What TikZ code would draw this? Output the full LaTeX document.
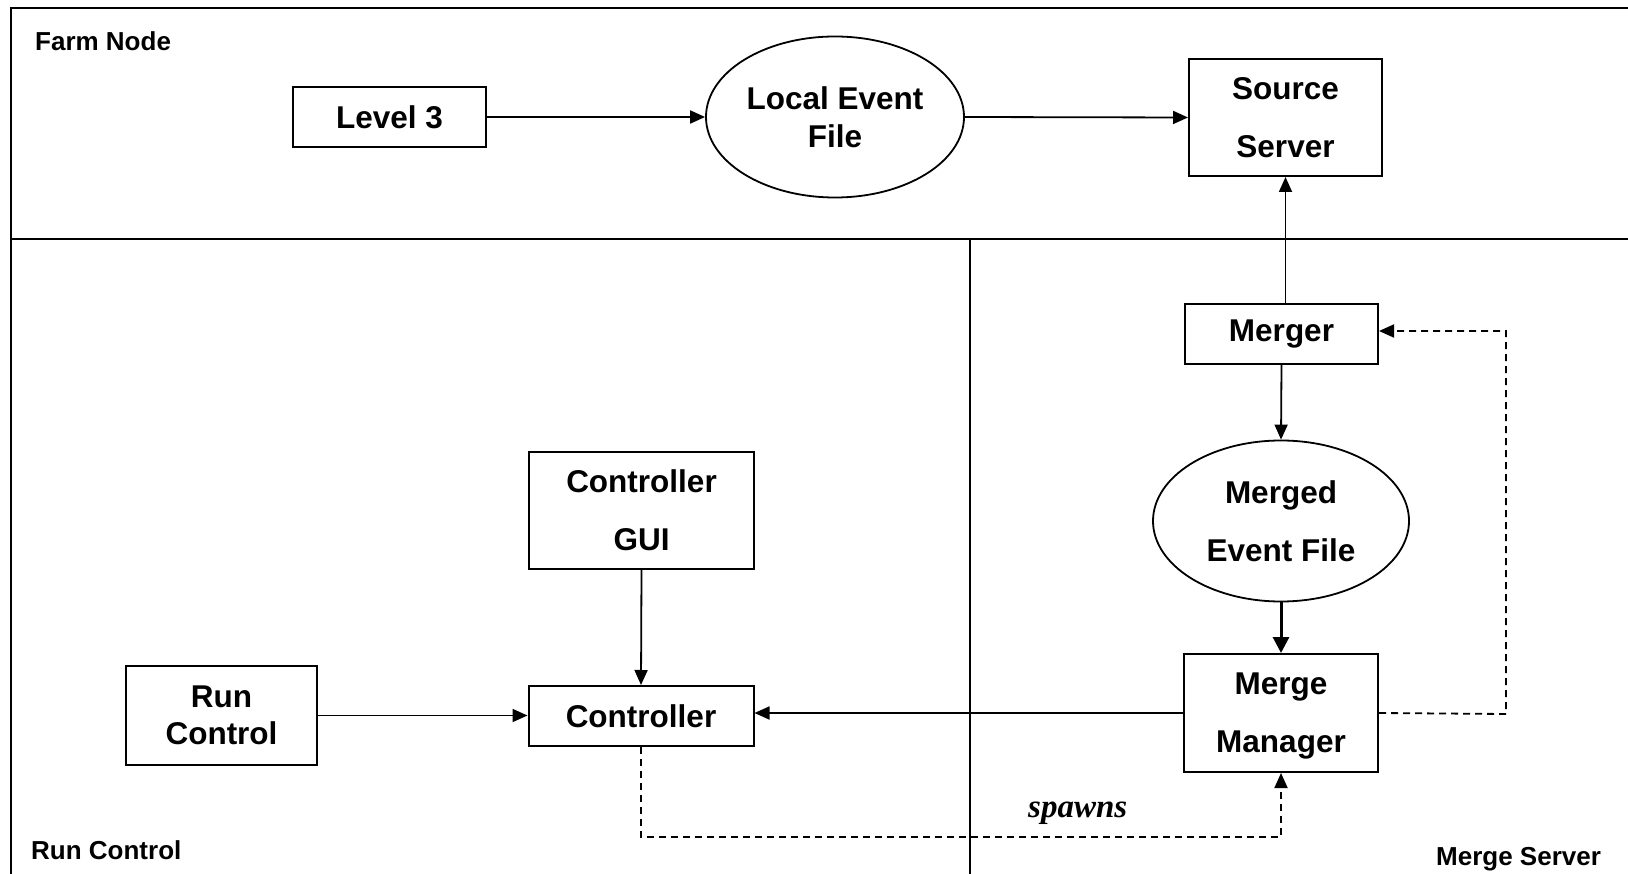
\documentclass[tikz,border=0pt]{standalone}
\usepackage{fontspec}
\setmainfont{Liberation Sans}
\newfontfamily\serifit{Liberation Serif}
\usetikzlibrary{arrows.meta,shapes.geometric}
\begin{document}
\begin{tikzpicture}[x=1pt,y=-1pt,
  box/.style={draw,line width=2pt,inner sep=0pt,align=center,
    font=\bfseries\fontsize{31.5}{58}\selectfont},
  tightbox/.style={box,font=\bfseries\fontsize{31.5}{37.5}\selectfont},
  ell/.style={draw,ellipse,line width=1.8pt,inner sep=0pt,align=center,
    font=\bfseries\fontsize{31.5}{58}\selectfont},
  tightell/.style={ell,font=\bfseries\fontsize{31.5}{37.5}\selectfont},
  lab/.style={inner sep=0pt,font=\bfseries\fontsize{26}{30}\selectfont},
  arr/.style={line width=1.8pt,-{Triangle[length=15pt,width=13pt]}},
  thickarr/.style={line width=3pt,-{Triangle[length=16pt,width=16pt]}},
  dasharr/.style={arr,dash pattern=on 7pt off 5pt}
]
\useasboundingbox (0,0) rectangle (1628,874);
% frame
\draw[line width=2.2pt] (11,874) -- (11,8) -- (1628,8);
\draw[line width=2.4pt] (11,239) -- (1628,239);
\draw[line width=2.2pt] (970,239) -- (970,874);

% nodes
\node[box,minimum width=193pt,minimum height=60pt] (l3) at (389.5,117) {Level 3};
\node[tightell,minimum width=258pt,minimum height=161pt] (lef) at (835,117) {Local Event\\File};
\node[box,minimum width=193pt,minimum height=117pt] (ss) at (1285.5,117.5) {Source\\Server};
\node[box,minimum width=193pt,minimum height=60pt] (merger) at (1281.5,334) {Merger};
\node[ell,minimum width=256pt,minimum height=161pt] (mef) at (1281,521) {Merged\\Event File};
\node[box,minimum width=194pt,minimum height=118pt] (mm) at (1281,713) {Merge\\\smash{Manager}};
\node[box,minimum width=225pt,minimum height=117pt] (gui) at (641.5,510.5) {Controller\\GUI};
\node[box,minimum width=225pt,minimum height=60pt] (ctrl) at (641,716) {Controller};
\node[tightbox,minimum width=191pt,minimum height=99pt] (rc) at (221.5,715.5) {Run\\Control};

% region labels
\node[lab,anchor=base west] (farm) at (35,51) {Farm Node};
\node[lab,anchor=base west] (rclab) at (31,859) {Run Control};
\node[lab,anchor=base west] (mslab) at (1436,865) {Merge Server};
\node[inner sep=0pt,anchor=base west,font=\serifit\bfseries\itshape\fontsize{33}{40}\selectfont] (spawns) at (1028,817) {spawns};

% connectors
\draw[arr] (l3.east) -- (lef.west);
\draw[arr] (lef.east) -- (ss.west);
\draw[arr] (merger.north -| ss.south) -- (ss.south);
\draw[arr] (merger.south) -- (mef.north);
\draw[thickarr] (mef.south) -- (mm.north);
\draw[arr] (mm.west) -- (mm.west -| ctrl.east);
\draw[arr] (rc.east) -- (rc.east -| ctrl.west);
\draw[arr] (gui.south) -- (ctrl.north);

\coordinate (c1) at (1506,714);
\coordinate (c2) at (1506,331);
\draw[dasharr] (mm.east) -- (c1) -- (c2) -- (c2 -| merger.east);

\coordinate (s1) at (640,837);
\draw[dasharr] (ctrl.south) -- (ctrl.south |- s1) -- (s1 -| mm.south) -- (mm.south);
\end{tikzpicture}
\end{document}
